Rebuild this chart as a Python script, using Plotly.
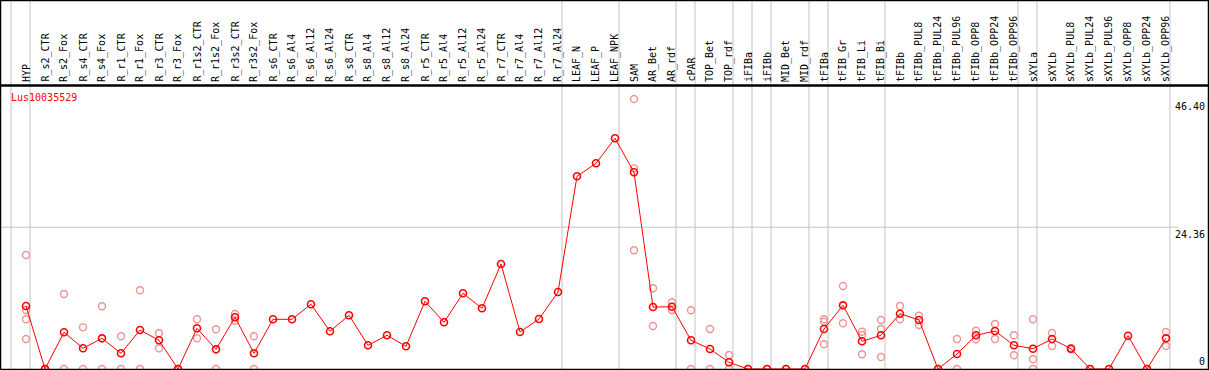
import plotly.graph_objects as go

categories = ["HYP", "R_s2_CTR", "R_s2_Fox", "R_s4_CTR", "R_s4_Fox", "R_r1_CTR", "R_r1_Fox",
              "R_r3_CTR", "R_r3_Fox", "R_r1s2_CTR", "R_r1s2_Fox", "R_r3s2_CTR", "R_r3s2_Fox",
              "R_s6_CTR", "R_s6_Al4", "R_s6_Al12", "R_s6_Al24", "R_s8_CTR", "R_s8_Al4",
              "R_s8_Al12", "R_s8_Al24", "R_r5_CTR", "R_r5_Al4", "R_r5_Al12", "R_r5_Al24",
              "R_r7_CTR", "R_r7_Al4", "R_r7_Al12", "R_r7_Al24", "LEAF_N", "LEAF_P", "LEAF_NPK",
              "SAM", "AR_Bet", "AR_rdf", "cPAR", "TOP_Bet", "TOP_rdf", "iFIBa", "iFIBb",
              "MID_Bet", "MID_rdf", "tFIBa", "tFIB_Gr", "tFIB_Li", "tFIB_Bi", "tFIBb",
              "tFIBb_PUL8", "tFIBb_PUL24", "tFIBb_PUL96", "tFIBb_OPP8", "tFIBb_OPP24",
              "tFIBb_OPP96", "sXYLa", "sXYLb", "sXYLb_PUL8", "sXYLb_PUL24", "sXYLb_PUL96",
              "sXYLb_OPP8", "sXYLb_OPP24", "sXYLb_OPP96"]

mean_values = [10.82, 0.0, 6.31, 3.56, 5.27, 2.70, 6.70,
               4.93, 0.0, 6.99, 3.38, 8.88, 2.70,
               8.54, 8.54, 11.12, 6.48, 9.23, 4.07,
               5.79, 3.90, 11.63, 8.02, 13.01, 10.43,
               18.04, 6.36, 8.59, 13.23, 33.11, 35.34, 39.64,
               33.80, 10.65, 10.70, 4.93, 3.44, 1.15, 0.0, 0.0,
               0.0, 0.0, 6.87, 10.94, 4.76, 5.79, 9.50,
               8.42, 0.0, 2.58, 5.79, 6.53,
               4.07, 3.49, 5.15, 3.49, 0.0, 0.0,
               5.72, 0.0, 5.27]

replicates = [[19.59, 10.14, 8.54, 5.15], [0.0, 0.0], [12.89, 0.0], [7.16, 0.0], [10.77, 0.0], [5.62, 0.0], [13.52, 0.0],
              [6.13, 3.56], [0.0, 0.0], [8.54, 5.27], [6.82, 0.0], [9.45, 8.30], [5.62, 0.0],
              [], [], [], [], [], [],
              [], [], [], [], [], [],
              [], [], [], [], [], [], [],
              [46.40, 34.48, 20.40], [13.87, 7.39], [11.46, 10.14], [10.09, 0.0], [6.87, 0.0], [2.41, 0.0], [0.0], [0.0],
              [0.0], [0.0], [8.54, 8.13, 4.24], [14.26, 7.85], [6.41, 5.84, 2.53], [8.42, 6.87, 2.06], [10.82, 8.54],
              [9.16, 7.56], [0.0], [5.15, 0.0], [6.58, 5.10], [7.73, 5.15],
              [5.79, 2.35], [8.54, 1.67, 0.0], [6.19, 3.95], [3.60, 3.40], [0.0], [0.0],
              [], [0.0], [6.36, 3.95]]

gene_name = "Lus10035529"
axis_labels = ["46.40", "24.36", "0"]
axis_values = [46.40, 24.36, 0.0]
group_ends = [-1, 0, 28, 31, 34, 35, 37, 38, 39, 41, 42, 45, 52, 53, 60]

W, H = 1209, 370
x_idx = list(range(len(categories)))

rep_x, rep_y = [], []
for i, reps in enumerate(replicates):
    for v in reps:
        rep_x.append(i)
        rep_y.append(v)

fig = go.Figure()
fig.add_trace(go.Scatter(
    x=rep_x, y=rep_y, mode="markers",
    marker=dict(symbol="circle-open", size=7, color="#ee9494", line=dict(width=1.4, color="#ee9494")),
    hoverinfo="skip", showlegend=False))
fig.add_trace(go.Scatter(
    x=x_idx, y=mean_values, mode="lines+markers",
    line=dict(color="#ff0000", width=1),
    marker=dict(symbol="circle-open", size=7, color="#ff0000", line=dict(width=1.6, color="#ff0000")),
    hoverinfo="skip", showlegend=False))

shapes = []
for g in group_ends:
    xv = g + 4.0 / 19.0
    shapes.append(dict(type="line", xref="x", yref="paper", x0=xv, x1=xv, y0=0, y1=1,
                       line=dict(color="#c4c4c4", width=1), layer="below"))
shapes.append(dict(type="line", xref="paper", yref="y", x0=0, x1=1178 / W, y0=24.36, y1=24.36,
                   line=dict(color="#c4c4c4", width=1), layer="below"))
hdr = (H - 85.5) / H
for s in [dict(x0=0, x1=1, y0=1, y1=1), dict(x0=0, x1=1, y0=hdr, y1=hdr), dict(x0=0, x1=1, y0=0, y1=0),
          dict(x0=0, x1=0, y0=0, y1=1), dict(x0=1, x1=1, y0=0, y1=1)]:
    shapes.append(dict(type="line", xref="paper", yref="paper", line=dict(color="black", width=2.5),
                       layer="above", **s))

annotations = []
for i, c in enumerate(categories):
    annotations.append(dict(x=i, xref="x", y=(H - 84) / H, yref="paper", text=c, textangle=-90,
                            showarrow=False, xanchor="center", yanchor="bottom", xshift=0,
                            font=dict(family="DejaVu Sans Mono", size=10, color="black")))
annotations.append(dict(x=9 / W, xref="paper", y=(H - 97) / H, yref="paper", text=gene_name,
                        showarrow=False, xanchor="left", yanchor="middle",
                        font=dict(family="DejaVu Sans Mono", size=10, color="#ff0000")))
for lab, v in zip(axis_labels, axis_values):
    annotations.append(dict(x=1207 / W, xref="paper", y=v, yref="y", text=lab, showarrow=False,
                            xanchor="right", yanchor="bottom" if v == 0 else "top",
                            font=dict(family="DejaVu Sans Mono", size=10, color="black")))

s = 5.82
fig.update_layout(
    width=W, height=H, margin=dict(l=0, r=0, t=0, b=0),
    paper_bgcolor="white", plot_bgcolor="white",
    xaxis=dict(range=[-26 / 19, (W - 26) / 19], visible=False, fixedrange=True),
    yaxis=dict(range=[-1 / s, 369 / s], visible=False, fixedrange=True),
    shapes=shapes, annotations=annotations, showlegend=False)

fig.write_html("out.html", config={"displayModeBar": False},
               post_script="document.body.style.margin='0';document.body.style.overflow='hidden';")
